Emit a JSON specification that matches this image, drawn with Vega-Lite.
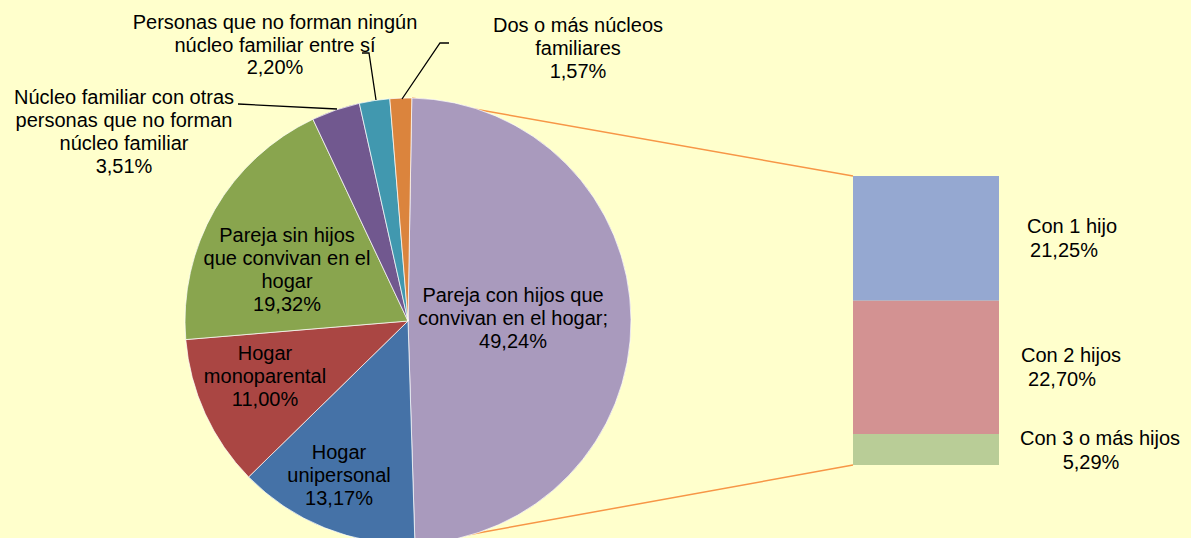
{
  "$schema": "https://vega.github.io/schema/vega-lite/v6.json",
  "width": 1191,
  "height": 538,
  "autosize": {"type": "none"},
  "padding": 0,
  "background": "#FFFFCC",
  "config": {"view": {"stroke": null}},
  "datasets": {
    "tarta": [
      {"categoria": "Pareja con hijos que convivan en el hogar", "pct": 49.24, "orden": 1},
      {"categoria": "Hogar unipersonal", "pct": 13.17, "orden": 2},
      {"categoria": "Hogar monoparental", "pct": 11.00, "orden": 3},
      {"categoria": "Pareja sin hijos que convivan en el hogar", "pct": 19.32, "orden": 4},
      {"categoria": "Núcleo familiar con otras personas que no forman núcleo familiar", "pct": 3.51, "orden": 5},
      {"categoria": "Personas que no forman ningún núcleo familiar entre sí", "pct": 2.20, "orden": 6},
      {"categoria": "Dos o más núcleos familiares", "pct": 1.57, "orden": 7}
    ],
    "barra": [
      {"categoria": "Con 1 hijo", "pct": 21.25, "orden": 3},
      {"categoria": "Con 2 hijos", "pct": 22.70, "orden": 2},
      {"categoria": "Con 3 o más hijos", "pct": 5.29, "orden": 1}
    ],
    "conectores": [
      {"id": "superior", "x": 412, "y": 98, "x2": 853, "y2": 176},
      {"id": "inferior", "x": 412, "y": 545, "x2": 853, "y2": 465}
    ],
    "guias": [
      {"id": "a", "seq": 1, "x": 238, "y": 104},
      {"id": "a", "seq": 2, "x": 337, "y": 109},
      {"id": "b", "seq": 1, "x": 362, "y": 53},
      {"id": "b", "seq": 2, "x": 369, "y": 53},
      {"id": "b", "seq": 3, "x": 376, "y": 100},
      {"id": "c", "seq": 1, "x": 449, "y": 43},
      {"id": "c", "seq": 2, "x": 440, "y": 43},
      {"id": "c", "seq": 3, "x": 402, "y": 99}
    ],
    "etiquetas": [
      {"t": "Personas que no forman ningún", "x": 275, "y": 29},
      {"t": "núcleo familiar entre sí", "x": 275, "y": 52},
      {"t": "2,20%", "x": 275, "y": 74},
      {"t": "Núcleo familiar con otras", "x": 124, "y": 104},
      {"t": "personas que no forman", "x": 124, "y": 127},
      {"t": "núcleo familiar", "x": 124, "y": 150},
      {"t": "3,51%", "x": 124, "y": 173},
      {"t": "Dos o más núcleos", "x": 578, "y": 32},
      {"t": "familiares", "x": 578, "y": 55},
      {"t": "1,57%", "x": 578, "y": 78},
      {"t": "Pareja sin hijos", "x": 287, "y": 242},
      {"t": "que convivan en el", "x": 287, "y": 265},
      {"t": "hogar", "x": 287, "y": 288},
      {"t": "19,32%", "x": 287, "y": 311},
      {"t": "Hogar", "x": 265, "y": 360},
      {"t": "monoparental", "x": 265, "y": 383},
      {"t": "11,00%", "x": 265, "y": 406},
      {"t": "Hogar", "x": 339, "y": 459},
      {"t": "unipersonal", "x": 339, "y": 482},
      {"t": "13,17%", "x": 339, "y": 505},
      {"t": "Pareja con hijos que", "x": 513, "y": 302},
      {"t": "convivan en el hogar;", "x": 513, "y": 325},
      {"t": "49,24%", "x": 513, "y": 348},
      {"t": "Con 1 hijo", "x": 1072, "y": 233},
      {"t": "21,25%", "x": 1064, "y": 257},
      {"t": "Con 2 hijos", "x": 1071, "y": 362},
      {"t": "22,70%", "x": 1062, "y": 386},
      {"t": "Con 3 o más hijos", "x": 1100, "y": 445},
      {"t": "5,29%", "x": 1091, "y": 469}
    ]
  },
  "resolve": {"scale": {"y": "independent"}},
  "layer": [
    {
      "data": {"name": "conectores"},
      "mark": {"type": "rule", "color": "#F79646", "strokeWidth": 1.5},
      "encoding": {
        "x": {"field": "x", "type": "quantitative", "scale": {"domain": [0, 1191], "nice": false, "zero": false}, "axis": null},
        "y": {"field": "y", "type": "quantitative", "scale": {"domain": [0, 538], "nice": false, "zero": false, "reverse": true}, "axis": null},
        "x2": {"field": "x2"},
        "y2": {"field": "y2"}
      }
    },
    {
      "data": {"name": "tarta"},
      "mark": {"type": "arc", "outerRadius": 223, "stroke": "#FFFFFF", "strokeWidth": 0.7},
      "encoding": {
        "x": {"datum": 408, "type": "quantitative", "scale": {"domain": [0, 1191], "nice": false, "zero": false}, "axis": null},
        "y": {"datum": 321, "type": "quantitative", "scale": {"domain": [0, 538], "nice": false, "zero": false, "reverse": true}, "axis": null},
        "theta": {"field": "pct", "type": "quantitative", "stack": true, "scale": {"range": [0.017, 6.3002]}},
        "order": {"field": "orden", "type": "quantitative"},
        "color": {
          "field": "categoria",
          "type": "nominal",
          "legend": null,
          "scale": {
            "domain": [
              "Pareja con hijos que convivan en el hogar",
              "Hogar unipersonal",
              "Hogar monoparental",
              "Pareja sin hijos que convivan en el hogar",
              "Núcleo familiar con otras personas que no forman núcleo familiar",
              "Personas que no forman ningún núcleo familiar entre sí",
              "Dos o más núcleos familiares",
              "Con 1 hijo",
              "Con 2 hijos",
              "Con 3 o más hijos"
            ],
            "range": ["#A99ABD", "#4572A7", "#AA4643", "#89A54E", "#71588F", "#4198AF", "#DB843D", "#95A8D1", "#D39292", "#B9CD97"]
          }
        }
      }
    },
    {
      "data": {"name": "barra"},
      "transform": [
        {"stack": "pct", "groupby": [], "sort": [{"field": "orden", "order": "ascending"}], "as": ["y0", "y1"]}
      ],
      "mark": {"type": "rect"},
      "encoding": {
        "x": {"datum": 853, "type": "quantitative", "scale": {"domain": [0, 1191], "nice": false, "zero": false}, "axis": null},
        "x2": {"datum": 999},
        "y": {"field": "y0", "type": "quantitative", "scale": {"domain": [-12.44, 79.23], "nice": false, "zero": false}, "axis": null},
        "y2": {"field": "y1"},
        "color": {
          "field": "categoria",
          "type": "nominal",
          "legend": null,
          "scale": {
            "domain": [
              "Pareja con hijos que convivan en el hogar",
              "Hogar unipersonal",
              "Hogar monoparental",
              "Pareja sin hijos que convivan en el hogar",
              "Núcleo familiar con otras personas que no forman núcleo familiar",
              "Personas que no forman ningún núcleo familiar entre sí",
              "Dos o más núcleos familiares",
              "Con 1 hijo",
              "Con 2 hijos",
              "Con 3 o más hijos"
            ],
            "range": ["#A99ABD", "#4572A7", "#AA4643", "#89A54E", "#71588F", "#4198AF", "#DB843D", "#95A8D1", "#D39292", "#B9CD97"]
          }
        }
      }
    },
    {
      "data": {"name": "guias"},
      "mark": {"type": "line", "color": "#000000", "strokeWidth": 1.3},
      "encoding": {
        "x": {"field": "x", "type": "quantitative", "scale": {"domain": [0, 1191], "nice": false, "zero": false}, "axis": null},
        "y": {"field": "y", "type": "quantitative", "scale": {"domain": [0, 538], "nice": false, "zero": false, "reverse": true}, "axis": null},
        "detail": {"field": "id", "type": "nominal"},
        "order": {"field": "seq", "type": "quantitative"}
      }
    },
    {
      "data": {"name": "etiquetas"},
      "mark": {"type": "text", "font": "Liberation Sans", "fontSize": 20, "color": "#000000", "align": "center", "baseline": "alphabetic"},
      "encoding": {
        "x": {"field": "x", "type": "quantitative", "scale": {"domain": [0, 1191], "nice": false, "zero": false}, "axis": null},
        "y": {"field": "y", "type": "quantitative", "scale": {"domain": [0, 538], "nice": false, "zero": false, "reverse": true}, "axis": null},
        "text": {"field": "t", "type": "nominal"}
      }
    }
  ]
}
